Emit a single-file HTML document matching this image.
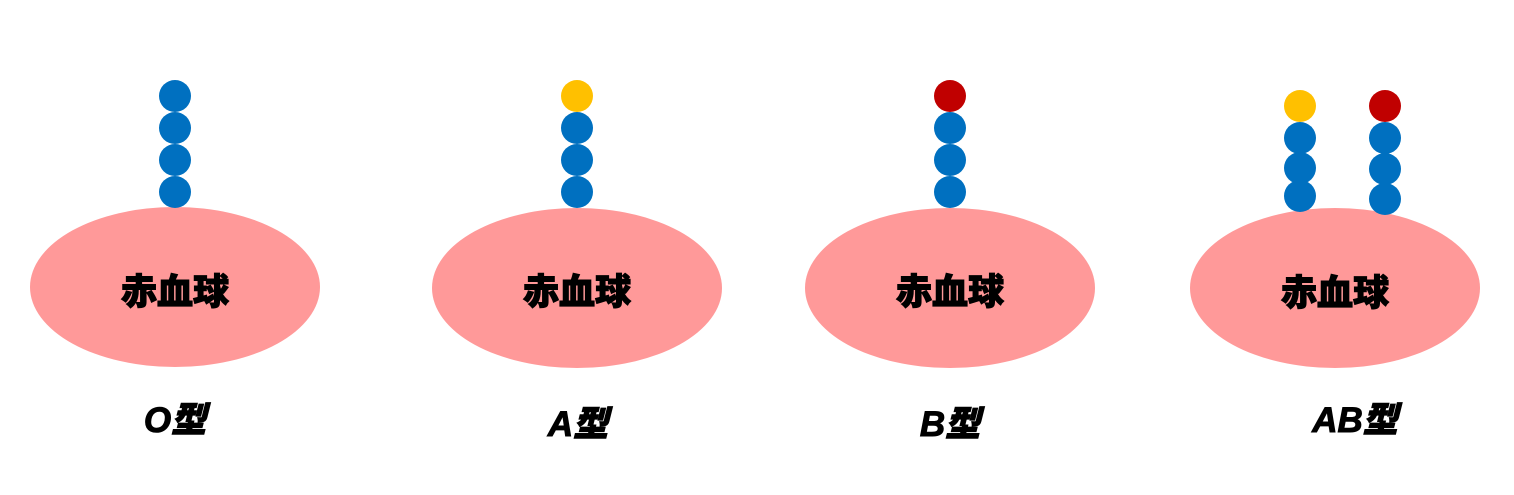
<!DOCTYPE html>
<html><head><meta charset="utf-8"><style>
body{margin:0;background:#fff;}
svg text{font-family:"Liberation Sans","Noto Sans CJK JP",sans-serif;font-weight:900;fill:#000;text-anchor:middle;}
</style></head><body>
<svg width="1514" height="490" xmlns="http://www.w3.org/2000/svg">
<g fill="#FF9999">
<ellipse cx="175" cy="287" rx="145" ry="80"/>
<ellipse cx="577" cy="288" rx="145" ry="80"/>
<ellipse cx="950" cy="288" rx="145" ry="80"/>
<ellipse cx="1335" cy="288" rx="145" ry="80"/>
</g>
<g fill="#0070C0">
<circle cx="175" cy="96" r="16"/><circle cx="175" cy="128" r="16"/><circle cx="175" cy="160" r="16"/><circle cx="175" cy="192" r="16"/>
<circle cx="577" cy="128" r="16"/><circle cx="577" cy="160" r="16"/><circle cx="577" cy="192" r="16"/>
<circle cx="950" cy="128" r="16"/><circle cx="950" cy="160" r="16"/><circle cx="950" cy="192" r="16"/>
<circle cx="1300" cy="138" r="16"/><circle cx="1300" cy="168" r="16"/><circle cx="1300" cy="196" r="16"/>
<circle cx="1385" cy="138" r="16"/><circle cx="1385" cy="169" r="16"/><circle cx="1385" cy="199" r="16"/>
</g>
<circle cx="577" cy="96" r="16" fill="#FFC000"/>
<circle cx="950" cy="96" r="16" fill="#C00000"/>
<circle cx="1300" cy="106" r="16" fill="#FFC000"/>
<circle cx="1385" cy="106" r="16" fill="#C00000"/>
<g font-size="36" stroke="#000" stroke-width="1">
<text x="175" y="304">赤血球</text>
<text x="577" y="304">赤血球</text>
<text x="950" y="304">赤血球</text>
<text x="1335" y="305">赤血球</text>
</g>
<g font-size="35" font-style="italic" stroke="#000" stroke-width="1">
<text x="175" y="432">O型</text>
<text x="578" y="436">A型</text>
<text x="950" y="436">B型</text>
<text x="1355" y="432">AB型</text>
</g>
</svg>
</body></html>
